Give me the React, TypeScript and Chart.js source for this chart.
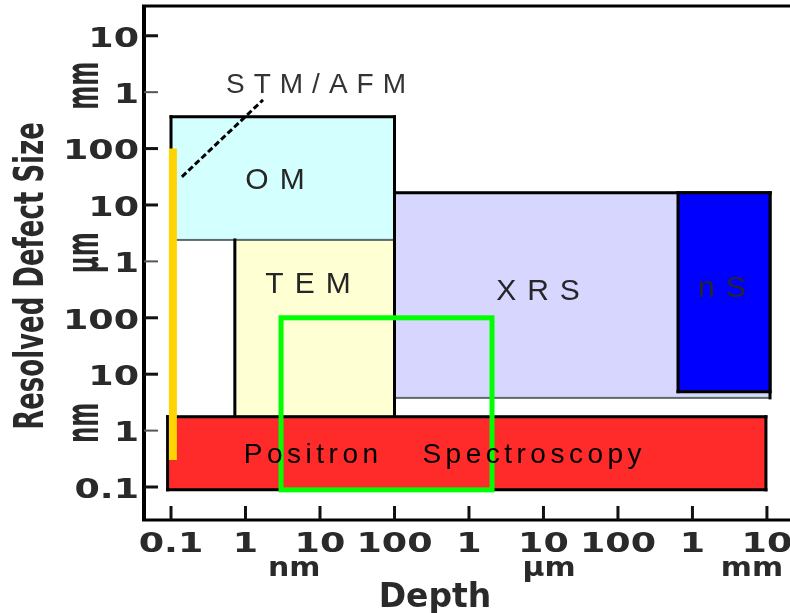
import React, { useEffect, useRef } from 'react';
import { Chart, registerables } from 'chart.js';

Chart.register(...registerables);

// ---- data (all lengths in nanometres) ----
const X_TICK_VALUES = [0.1, 1, 10, 100, 1000, 1e4, 1e5, 1e6, 1e7];
const X_TICK_LABELS = ['0.1', '1', '10', '100', '1', '10', '100', '1', '10'];
const Y_TICK_VALUES = [0.1, 1, 10, 100, 1000, 1e4, 1e5, 1e6, 1e7];
const Y_TICK_LABELS = ['0.1', '1', '10', '100', '1', '10', '100', '1', '10'];
const UNITS = ['nm', 'µm', 'mm'];
const X_UNIT_POS = [4.5, 1.19e4, 6.3e6];
const Y_UNIT_POS = [1.37, 1420, 1.3e6];

const METHODS = ['OM', 'TEM', 'XRS', 'nS', 'Positron Spectroscopy'];
const DEPTH_MIN = [0.1, 0.72, 100, 6.4e5, 0.09];
const DEPTH_MAX = [100, 100, 1.1e7, 1.1e7, 9.7e6];
const SIZE_MIN = [2400, 1.76, 3.8, 4.9, 0.089];
const SIZE_MAX = [3.66e5, 2400, 1.64e4, 1.64e4, 1.76];

const STM_DEPTH = 0.106;
const STM_SIZE = [0.3, 1e5];
const STM_LEADER_DEPTH = [0.14, 1.72];
const STM_LEADER_SIZE = [3.16e4, 7.3e5];

const HIGHLIGHT_DEPTH = [3.0, 2040];
const HIGHLIGHT_SIZE = [0.089, 100];

const LABELS = ['OM', 'TEM', 'XRS', 'nS', 'Positron', 'Spectroscopy', 'STM/AFM'];
const LABEL_DEPTH = [2.49, 6.9, 8440, 2.49e6, 7.57, 7010, 8.84];
const LABEL_SIZE = [3.03e4, 418, 327, 369, 0.4, 0.4, 1.47e6];

const X_TITLE = 'Depth';
const Y_TITLE = 'Resolved Defect Size';

// ---- axis ranges ----
const X_MIN = 0.0434;
const X_MAX = 2.04e7;
const Y_MIN = 0.026;
const Y_MAX = 3.37e7;

// ---- styles ----
const BOX_STYLES = [
  { fill: '#d4ffff', black: 'tlr' },
  { fill: '#ffffd4', black: 'lr' },
  { fill: '#d6d6ff', black: 'tlr' },
  { fill: '#0000ff', black: 'tlrb' },
  { fill: '#ff2b2b', black: 'tlrb' },
];
const LABEL_STYLES = [
  { size: 30, spacing: 11, color: '#262626' },
  { size: 30, spacing: 11, color: '#262626' },
  { size: 30, spacing: 11, color: '#262626' },
  { size: 30, spacing: 11, color: '#262626' },
  { size: 28, spacing: 4.5, color: '#000000' },
  { size: 28, spacing: 4.5, color: '#000000' },
  { size: 28, spacing: 9, color: '#333333' },
];
const TEXT_COLOR = '#2a2a2a';

function spacedText(ctx: any, text: string, cx: number, cy: number, size: number, spacing: number, color: string) {
  ctx.font = `${size}px "Liberation Sans", Arial, sans-serif`;
  ctx.letterSpacing = `${spacing}px`;
  const w = ctx.measureText(text).width - spacing;
  ctx.fillStyle = color;
  ctx.textAlign = 'left';
  ctx.textBaseline = 'alphabetic';
  ctx.fillText(text, cx - w / 2, cy + (size * 0.716) / 2);
  ctx.letterSpacing = '0px';
}

function rotatedText(ctx: any, text: string, cx: number, cy: number, size: number, stretch: number, ink: number) {
  ctx.save();
  ctx.translate(cx, cy);
  ctx.rotate(-Math.PI / 2);
  ctx.scale(1, stretch);
  ctx.font = `bold ${size}px "DejaVu Sans", sans-serif`;
  ctx.fillStyle = TEXT_COLOR;
  ctx.textAlign = 'center';
  ctx.textBaseline = 'alphabetic';
  ctx.fillText(text, 0, (size * ink) / 2);
  ctx.restore();
}

const defectMapPlugin = {
  id: 'defectMap',
  afterDraw(chart: any) {
    const { ctx, chartArea: ca } = chart;
    const X = (v: number) => chart.scales.x.getPixelForValue(v);
    const Y = (v: number) => chart.scales.y.getPixelForValue(v);
    ctx.save();

    // method boxes
    METHODS.forEach((_, i) => {
      const x0 = X(DEPTH_MIN[i]);
      const x1 = X(DEPTH_MAX[i]);
      const yT = Y(SIZE_MAX[i]);
      const yB = Y(SIZE_MIN[i]);
      const st = BOX_STYLES[i];
      ctx.fillStyle = st.fill;
      ctx.fillRect(x0, yT, x1 - x0, yB - yT);
      ctx.strokeStyle = '#5d6b6b';
      ctx.lineWidth = 2;
      ctx.strokeRect(x0, yT, x1 - x0, yB - yT);
      ctx.strokeStyle = '#000';
      ctx.lineWidth = 3;
      ctx.lineCap = 'square';
      const sides: Record<string, number[]> = {
        t: [x0, yT, x1, yT],
        b: [x0, yB, x1, yB],
        l: [x0, yT, x0, yB],
        r: [x1, yT, x1, yB],
      };
      for (const s of st.black) {
        const [a, b, c, d] = sides[s];
        ctx.beginPath();
        ctx.moveTo(a, b);
        ctx.lineTo(c, d);
        ctx.stroke();
      }
    });
    ctx.lineCap = 'butt';

    // STM/AFM range
    ctx.strokeStyle = '#ffd400';
    ctx.lineWidth = 8;
    ctx.beginPath();
    ctx.moveTo(X(STM_DEPTH), Y(STM_SIZE[1]));
    ctx.lineTo(X(STM_DEPTH), Y(STM_SIZE[0]));
    ctx.stroke();

    // highlight region
    ctx.strokeStyle = '#00ff00';
    ctx.lineWidth = 5;
    const hx0 = X(HIGHLIGHT_DEPTH[0]);
    const hx1 = X(HIGHLIGHT_DEPTH[1]);
    const hy0 = Y(HIGHLIGHT_SIZE[1]);
    const hy1 = Y(HIGHLIGHT_SIZE[0]);
    ctx.strokeRect(hx0, hy0, hx1 - hx0, hy1 - hy0);

    // leader line
    ctx.strokeStyle = '#000';
    ctx.lineWidth = 3;
    ctx.setLineDash([6, 3]);
    ctx.beginPath();
    ctx.moveTo(X(STM_LEADER_DEPTH[0]), Y(STM_LEADER_SIZE[0]));
    ctx.lineTo(X(STM_LEADER_DEPTH[1]), Y(STM_LEADER_SIZE[1]));
    ctx.stroke();
    ctx.setLineDash([]);

    // labels
    LABELS.forEach((t, i) => {
      const st = LABEL_STYLES[i];
      spacedText(ctx, t, X(LABEL_DEPTH[i]), Y(LABEL_SIZE[i]), st.size, st.spacing, st.color);
    });

    // axes frame
    ctx.strokeStyle = '#000';
    ctx.lineWidth = 4;
    ctx.beginPath();
    ctx.moveTo(ca.left, ca.top);
    ctx.lineTo(ca.left, ca.bottom);
    ctx.stroke();
    ctx.lineWidth = 3;
    ctx.beginPath();
    ctx.moveTo(ca.left - 2, ca.top);
    ctx.lineTo(ca.right, ca.top);
    ctx.moveTo(ca.left - 2, ca.bottom);
    ctx.lineTo(ca.right, ca.bottom);
    ctx.stroke();

    // tick marks (inside)
    Y_TICK_VALUES.forEach((v, i) => {
      const y = Y(v);
      const minor = Y_TICK_LABELS[i] === '1';
      ctx.strokeStyle = minor ? '#555' : '#111';
      ctx.lineWidth = minor ? 2 : 3;
      ctx.beginPath();
      ctx.moveTo(ca.left, y);
      ctx.lineTo(ca.left + 14, y);
      ctx.stroke();
    });
    X_TICK_VALUES.forEach((v) => {
      const x = X(v);
      ctx.strokeStyle = '#111';
      ctx.lineWidth = 3;
      ctx.beginPath();
      ctx.moveTo(x, ca.bottom);
      ctx.lineTo(x, ca.bottom - 14);
      ctx.stroke();
    });

    // tick labels
    ctx.fillStyle = TEXT_COLOR;
    ctx.font = 'bold 27px "DejaVu Sans", sans-serif';
    ctx.textBaseline = 'alphabetic';
    const capHalf = (27 * 0.73) / 2;
    Y_TICK_VALUES.forEach((v, i) => {
      ctx.save();
      ctx.translate(ca.left - 5, Y(v) + 1 + capHalf);
      ctx.scale(1.35, 1);
      ctx.textAlign = 'right';
      ctx.fillText(Y_TICK_LABELS[i], 0, 0);
      ctx.restore();
    });
    X_TICK_VALUES.forEach((v, i) => {
      ctx.save();
      ctx.translate(X(v), ca.bottom + 22 + capHalf);
      ctx.scale(1.35, 1);
      ctx.textAlign = 'center';
      ctx.fillText(X_TICK_LABELS[i], 0, 0);
      ctx.restore();
    });

    // unit labels
    UNITS.forEach((u, i) => {
      ctx.save();
      ctx.translate(X(X_UNIT_POS[i]), ca.bottom + 49 + (26 * 0.56) / 2);
      ctx.scale(1.15, 1);
      ctx.font = 'bold 26px "DejaVu Sans", sans-serif';
      ctx.fillStyle = TEXT_COLOR;
      ctx.textAlign = 'center';
      ctx.fillText(u, 0, 0);
      ctx.restore();
      rotatedText(ctx, u, 85, Y(Y_UNIT_POS[i]), 23, 2.0, 0.56);
    });

    // titles
    ctx.font = 'bold 33px "DejaVu Sans", sans-serif';
    ctx.fillStyle = TEXT_COLOR;
    ctx.textAlign = 'center';
    ctx.fillText(X_TITLE, 435, 607);
    rotatedText(ctx, Y_TITLE, 28, 276, 26, 1.6, 0.73);

    ctx.restore();
  },
};

export default function App() {
  const ref = useRef<HTMLCanvasElement | null>(null);
  useEffect(() => {
    document.body.style.margin = '0';
    const canvas = ref.current;
    if (!canvas) return;
    const chart = new Chart(canvas, {
      type: 'scatter',
      data: { datasets: [] },
      options: {
        animation: false,
        responsive: false,
        maintainAspectRatio: false,
        devicePixelRatio: 1,
        layout: { padding: { top: 6, right: 0, left: 0, bottom: 0 } },
        plugins: { legend: { display: false }, tooltip: { enabled: false }, title: { display: false } },
        scales: {
          x: {
            type: 'logarithmic',
            min: X_MIN,
            max: X_MAX,
            bounds: 'data',
            ticks: { display: false },
            grid: { display: false },
            border: { display: false },
            afterBuildTicks: (s: any) => { s.ticks = X_TICK_VALUES.map((value) => ({ value })); },
            afterFit: (s: any) => { s.height = 93; },
          },
          y: {
            type: 'logarithmic',
            min: Y_MIN,
            max: Y_MAX,
            bounds: 'data',
            ticks: { display: false },
            grid: { display: false },
            border: { display: false },
            afterBuildTicks: (s: any) => { s.ticks = Y_TICK_VALUES.map((value) => ({ value })); },
            afterFit: (s: any) => { s.width = 144; },
          },
        },
      } as any,
      plugins: [defectMapPlugin],
    });
    return () => chart.destroy();
  }, []);
  return (
    <div style={{ width: 790, height: 613, background: '#fff' }}>
      <canvas ref={ref} width={790} height={613} style={{ display: 'block' }} />
    </div>
  );
}
